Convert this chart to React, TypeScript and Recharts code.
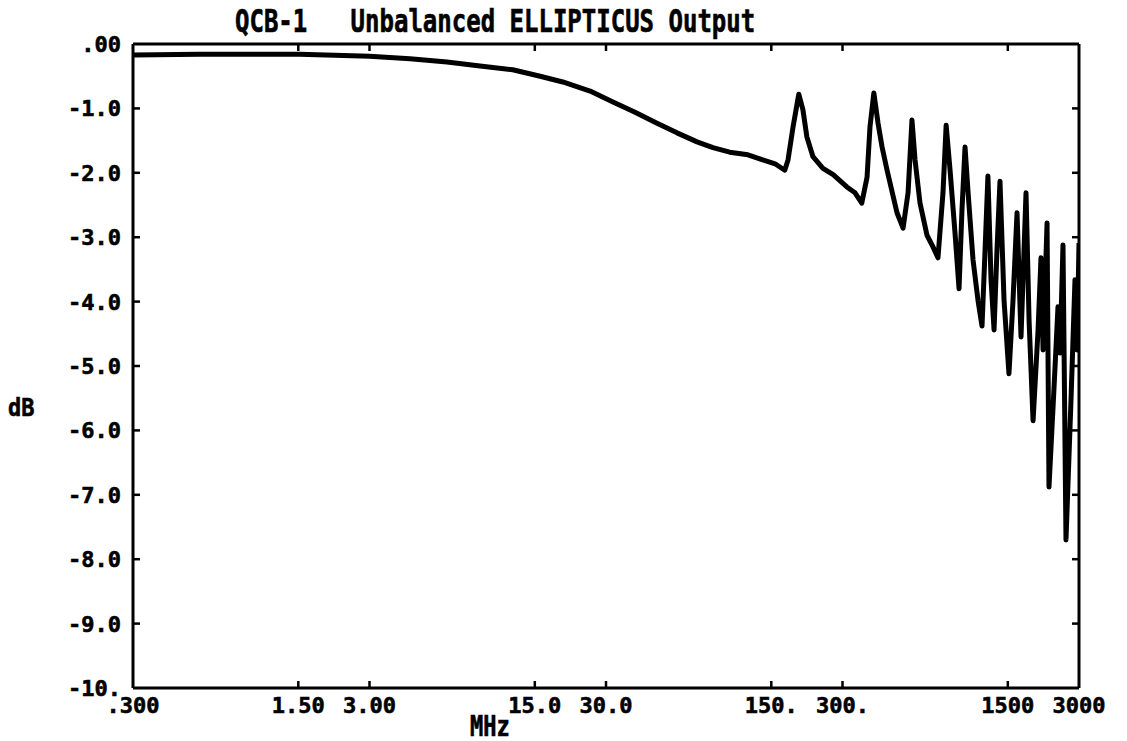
import React from 'react';
import { LineChart, Line, XAxis, YAxis } from 'recharts';

// sweep points (MHz, dB)
const freqMHz = [
  0.3, 0.576, 1.52, 3.0, 4.45, 6.38, 8.8, 12.1, 15.8, 19.7, 25.7, 32.1, 39.8, 49.3, 59.9, 72.8,
  85.0, 100, 119.5, 138, 155.6, 171, 176.5, 185.3, 196, 204, 212, 225, 248, 274, 313, 339, 362,
  381, 392, 407, 424, 441, 463, 510, 541, 568, 590, 608, 638, 683, 724, 760, 798, 823, 855, 897,
  933, 960, 989, 1019, 1069, 1122, 1167, 1202, 1236, 1274, 1312, 1350, 1390, 1446, 1517, 1578,
  1641, 1706, 1791, 1845, 1918, 2014, 2072, 2114, 2198, 2240, 2350, 2445, 2495, 2567, 2643, 2775,
  2885, 2944, 3000,
];
const gainDb = [
  -0.17, -0.16, -0.16, -0.19, -0.23, -0.28, -0.34, -0.4, -0.5, -0.59, -0.73, -0.9, -1.06, -1.23,
  -1.38, -1.52, -1.61, -1.68, -1.72, -1.8, -1.86, -1.96, -1.8, -1.29, -0.78, -1.02, -1.44, -1.75,
  -1.93, -2.03, -2.22, -2.31, -2.47, -2.07, -1.29, -0.76, -1.23, -1.6, -1.96, -2.62, -2.86, -2.31,
  -1.18, -1.8, -2.47, -2.97, -3.15, -3.32, -2.31, -1.26, -1.96, -2.93, -3.8, -2.58, -1.6, -2.31,
  -3.35, -3.98, -4.38, -3.2, -2.05, -3.66, -4.44, -3.2, -2.13, -3.98, -5.12, -3.98, -2.62, -4.55,
  -2.31, -4.29, -5.85, -4.44, -3.32, -4.75, -2.78, -6.88, -5.37, -4.08, -4.8, -3.12, -7.7, -5.53,
  -3.66, -4.75, -3.09,
];

const xTicks = [0.3, 1.5, 3, 15, 30, 150, 300, 1500, 3000];
const xTickLabels = ['.300', '1.50', '3.00', '15.0', '30.0', '150.', '300.', '1500', '3000'];
const yTicks = [0, -1, -2, -3, -4, -5, -6, -7, -8, -9, -10];
const yTickLabels = ['.00', '-1.0', '-2.0', '-3.0', '-4.0', '-5.0', '-6.0', '-7.0', '-8.0', '-9.0', '-10.'];

const data = freqMHz.map((f, i) => ({ f, db: gainDb[i] }));

const tickFont = {
  fontFamily: '"DejaVu Sans Mono", monospace',
  fontWeight: 700,
  fontSize: 22,
  fill: '#000',
  stroke: '#000',
  strokeWidth: 0.6,
};

const XTick = (props: any) => {
  const { x, y, payload } = props;
  const i = xTicks.indexOf(payload.value);
  return (
    <text x={x} y={y} dy={17} textAnchor="middle" {...tickFont}>
      {xTickLabels[i]}
    </text>
  );
};

const YTick = (props: any) => {
  const { x, y, payload } = props;
  const i = yTicks.indexOf(payload.value);
  return (
    <text x={x} y={y} dy={8} textAnchor="end" {...tickFont}>
      {yTickLabels[i]}
    </text>
  );
};

// inner tick marks only, no label
const NoLabel = () => <g />;

const labelFont: React.CSSProperties = {
  position: 'absolute',
  fontFamily: '"DejaVu Sans Mono", monospace',
  fontWeight: 700,
  lineHeight: 1,
  whiteSpace: 'pre',
  transformOrigin: 'top left',
  color: '#000',
  WebkitTextStroke: '0.5px #000',
};

const frame = { stroke: '#000', strokeWidth: 3 };
const tickMark = { stroke: '#000', strokeWidth: 2.5 };

export default function App() {
  return (
    <div style={{ position: 'absolute', left: 0, top: 0, width: 1127, height: 741, background: '#fff' }}>
      <div style={{ ...labelFont, left: 235, top: 6, fontSize: 24, transform: 'scaleY(1.3)' }}>
        {'QCB-1   Unbalanced ELLIPTICUS Output'}
      </div>
      <div style={{ ...labelFont, left: 470, top: 713, fontSize: 22, transform: 'scaleY(1.3)' }}>MHz</div>
      <div style={{ ...labelFont, left: 8, top: 396, fontSize: 22, transform: 'scaleY(1.1)' }}>dB</div>
      <LineChart width={1127} height={741} data={data} margin={{ top: 44, right: 48, bottom: 13, left: 0 }}>
        <XAxis
          xAxisId="x"
          dataKey="f"
          type="number"
          scale="log"
          domain={[0.3, 3000]}
          allowDataOverflow
          ticks={xTicks}
          interval={0}
          height={40}
          tickLine={false}
          tickSize={0}
          tickMargin={8}
          axisLine={frame}
          tick={<XTick />}
        />
        <XAxis
          xAxisId="xb"
          dataKey="f"
          type="number"
          scale="log"
          domain={[0.3, 3000]}
          allowDataOverflow
          ticks={xTicks.slice(1, -1)}
          interval={0}
          mirror
          height={1}
          tick={<NoLabel />}
          tickLine={tickMark}
          tickSize={7}
          axisLine={false}
        />
        <XAxis
          xAxisId="xt"
          orientation="top"
          dataKey="f"
          type="number"
          scale="log"
          domain={[0.3, 3000]}
          allowDataOverflow
          ticks={xTicks.slice(1, -1)}
          interval={0}
          mirror
          height={1}
          tick={<NoLabel />}
          tickLine={tickMark}
          tickSize={7}
          axisLine={frame}
        />
        <YAxis
          yAxisId="y"
          type="number"
          domain={[-10, 0]}
          allowDataOverflow
          ticks={yTicks}
          interval={0}
          width={133}
          tickLine={false}
          tickSize={0}
          tickMargin={12}
          axisLine={frame}
          tick={<YTick />}
        />
        <YAxis
          yAxisId="yl"
          type="number"
          domain={[-10, 0]}
          allowDataOverflow
          ticks={yTicks.slice(1, -1)}
          interval={0}
          mirror
          width={1}
          tick={<NoLabel />}
          tickLine={tickMark}
          tickSize={7}
          axisLine={false}
        />
        <YAxis
          yAxisId="yr"
          orientation="right"
          type="number"
          domain={[-10, 0]}
          allowDataOverflow
          ticks={yTicks.slice(1, -1)}
          interval={0}
          mirror
          width={1}
          tick={<NoLabel />}
          tickLine={tickMark}
          tickSize={7}
          axisLine={frame}
        />
        <Line
          xAxisId="x"
          yAxisId="y"
          dataKey="db"
          type="linear"
          stroke="#000"
          strokeWidth={5}
          strokeLinejoin="round"
          dot={false}
          isAnimationActive={false}
        />
      </LineChart>
    </div>
  );
}
